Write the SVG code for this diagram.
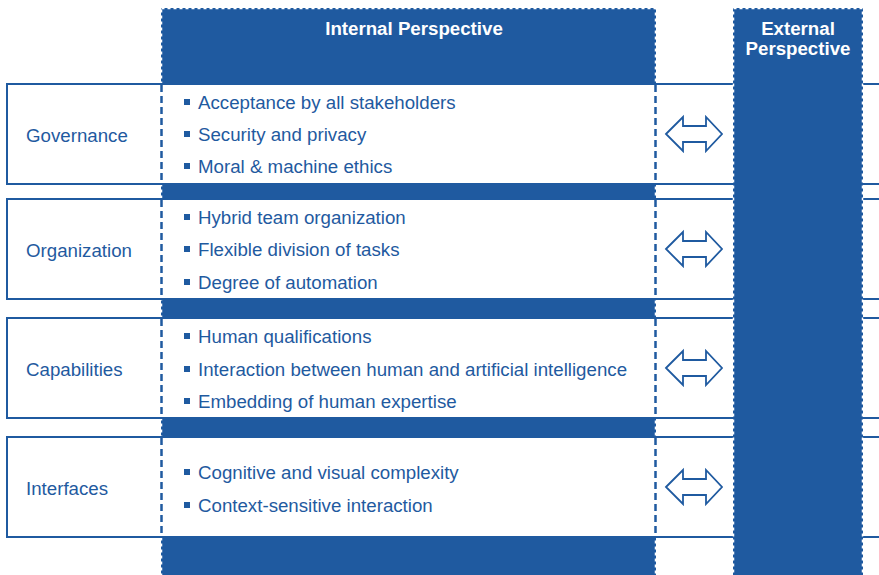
<svg xmlns="http://www.w3.org/2000/svg" width="879" height="575" viewBox="0 0 879 575">
<style>
.blue{fill:#1f5aa0}
.wdash{fill:none;stroke:#fff;stroke-width:1.5;stroke-dasharray:3 3}
.row{fill:#fff;stroke:#1f5aa0;stroke-width:2}
.vdash{stroke:#1f5aa0;stroke-width:2.5;stroke-dasharray:7 4}
.lbl{font-family:"Liberation Sans",Arial,sans-serif;font-size:18.7px;fill:#1f5aa0}
.hd{font-family:"Liberation Sans",Arial,sans-serif;font-size:18.7px;font-weight:bold;fill:#fff;text-anchor:middle}
.arrow{fill:#fff;stroke:#1f5aa0;stroke-width:1.8;stroke-linejoin:miter}
.bul{fill:#1f5aa0}
</style>
<defs>
<polygon id="dbl" class="arrow" points="0,0 17,-17 17,-8 40,-8 40,-17 56,0 40,17 40,8 17,8 17,17"/>
<rect id="sq" class="bul" x="0" y="0" width="6" height="6"/>
</defs>
<rect width="879" height="575" fill="#fff"/>
<g id="internal-column">
<rect class="blue" x="161" y="8" width="495" height="570"/>
<rect class="wdash" x="161.5" y="8.5" width="494" height="570"/>
<text class="hd" x="414" y="35">Internal Perspective</text>
</g>
<g id="rows">
<g id="row-governance">
<rect class="row" x="7" y="84" width="900" height="100"/>
<line class="vdash" x1="161.5" y1="85" x2="161.5" y2="183"/>
<line class="vdash" x1="655.5" y1="85" x2="655.5" y2="183"/>
<text class="lbl" x="26" y="141.5">Governance</text>
<use href="#sq" x="184" y="99"/><text class="lbl" x="198" y="108.5">Acceptance by all stakeholders</text>
<use href="#sq" x="184" y="131"/><text class="lbl" x="198" y="140.5">Security and privacy</text>
<use href="#sq" x="184" y="163"/><text class="lbl" x="198" y="172.5">Moral &amp; machine ethics</text>
</g>
<g id="row-organization">
<rect class="row" x="7" y="199" width="900" height="100"/>
<line class="vdash" x1="161.5" y1="200" x2="161.5" y2="298"/>
<line class="vdash" x1="655.5" y1="200" x2="655.5" y2="298"/>
<text class="lbl" x="26" y="256.5">Organization</text>
<use href="#sq" x="184" y="214"/><text class="lbl" x="198" y="223.5">Hybrid team organization</text>
<use href="#sq" x="184" y="246"/><text class="lbl" x="198" y="255.5">Flexible division of tasks</text>
<use href="#sq" x="184" y="279"/><text class="lbl" x="198" y="288.5">Degree of automation</text>
</g>
<g id="row-capabilities">
<rect class="row" x="7" y="318" width="900" height="100"/>
<line class="vdash" x1="161.5" y1="319" x2="161.5" y2="417"/>
<line class="vdash" x1="655.5" y1="319" x2="655.5" y2="417"/>
<text class="lbl" x="26" y="375.5">Capabilities</text>
<use href="#sq" x="184" y="333"/><text class="lbl" x="198" y="342.5">Human qualifications</text>
<use href="#sq" x="184" y="366"/><text class="lbl" x="198" y="375.5">Interaction between human and artificial intelligence</text>
<use href="#sq" x="184" y="398"/><text class="lbl" x="198" y="407.5">Embedding of human expertise</text>
</g>
<g id="row-interfaces">
<rect class="row" x="7" y="437" width="900" height="100"/>
<line class="vdash" x1="161.5" y1="438" x2="161.5" y2="536"/>
<line class="vdash" x1="655.5" y1="438" x2="655.5" y2="536"/>
<text class="lbl" x="26" y="494.5">Interfaces</text>
<use href="#sq" x="184" y="469"/><text class="lbl" x="198" y="478.5">Cognitive and visual complexity</text>
<use href="#sq" x="184" y="502"/><text class="lbl" x="198" y="511.5">Context-sensitive interaction</text>
</g>
</g>
<g id="external-column">
<rect class="blue" x="733" y="8" width="130" height="570"/>
<rect class="wdash" x="733.5" y="8.5" width="129" height="570"/>
<text class="hd" x="798" y="35">External</text>
<text class="hd" x="798" y="55">Perspective</text>
</g>
<g id="connectors">
<use href="#dbl" x="666" y="134"/>
<use href="#dbl" x="666" y="249"/>
<use href="#dbl" x="666" y="368"/>
<use href="#dbl" x="666" y="487"/>
</g>
</svg>
